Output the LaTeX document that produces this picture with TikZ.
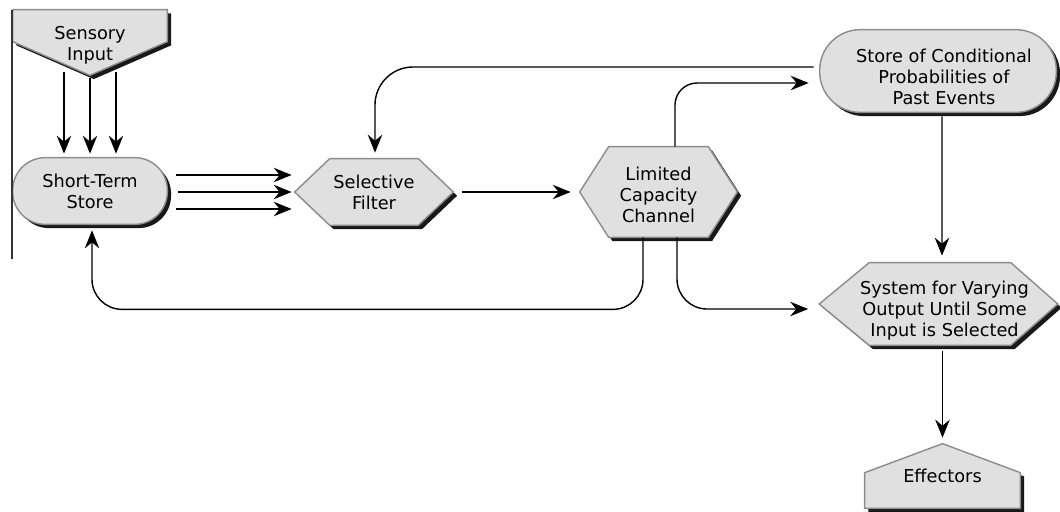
\documentclass[tikz,border=0pt]{standalone}
\usepackage{fontspec}
\setmainfont{DejaVu Sans}
\usetikzlibrary{calc,arrows.meta,shadows}
\pgfdeclarelayer{background}
\pgfsetlayers{background,main}
\tikzset{
  box/.style={inner sep=0pt, align=center, font=\fontsize{10.1}{12}\selectfont},
  txt/.style={inner sep=0pt, align=center, font=\fontsize{10.1}{12}\selectfont},
  shp/.style={fill=black!12, draw=black!45, line width=0.8pt,
    drop shadow={shadow xshift=0.075cm, shadow yshift=-0.075cm, opacity=0.9, fill=black}},
  arr/.style={line width=0.8pt, -{Stealth[length=0.36cm, width=0.29cm, inset=0.12cm]}}
}
\begin{document}
\begin{tikzpicture}[x=0.02cm, y=-0.02cm]
\useasboundingbox (0,0) rectangle (1060,511);

% nodes
\node[box, minimum width=3.08cm, minimum height=1.30cm,
  label={[txt, yshift=-0.05cm]center:{Sensory\\Input}}] (si) at (90,42.5) {};
\node[box, minimum width=3.08cm, minimum height=1.32cm] (sts) at (90,191) {Short-Term\\Store};
\node[box, minimum width=3.16cm, minimum height=1.32cm] (sf) at (374,192) {Selective\\Filter};
\node[box, minimum width=3.14cm, minimum height=1.80cm,
  label={[txt, yshift=-0.05cm]center:{Limited\\Capacity\\Channel}}] (lcc) at (658.5,192) {};
\node[box, minimum width=4.72cm, minimum height=1.64cm,
  label={[txt, xshift=0.12cm, yshift=-0.11cm]center:{Store of Conditional\\Probabilities of\\Past Events}}] (scp) at (938,71) {};
\node[box, minimum width=4.76cm, minimum height=1.64cm,
  label={[txt, xshift=0.12cm, yshift=-0.14cm]center:{System for Varying\\Output Until Some\\Input is Selected}}] (sys) at (938.5,304) {};
\node[box, minimum width=3.10cm, minimum height=1.28cm] (eff) at (942.5,476) {\raisebox{-3pt}{Effectors}};

% shapes
\begin{pgfonlayer}{background}
\path[shp] (si.north west) -- (si.north east) -- ($(si.north east)+(0,32)$) -- (si.south) -- ($(si.north west)+(0,32)$) -- cycle;
\path[shp, rounded corners=0.65cm] (sts.north west) rectangle (sts.south east);
\path[shp] (sf.west) -- ($(sf.north west)+(35,0)$) -- ($(sf.north east)+(-35,0)$) -- (sf.east) -- ($(sf.south east)+(-35,0)$) -- ($(sf.south west)+(35,0)$) -- cycle;
\path[shp] (lcc.west) -- ($(lcc.north west)+(29,0)$) -- ($(lcc.north east)+(-29,0)$) -- (lcc.east) -- ($(lcc.south east)+(-29,0)$) -- ($(lcc.south west)+(29,0)$) -- cycle;
\path[shp, rounded corners=0.81cm] (scp.north west) rectangle (scp.south east);
\path[shp] (sys.west) -- ($(sys.north west)+(50,0)$) -- ($(sys.north east)+(-47,0)$) -- (sys.east) -- ($(sys.south east)+(-47,0)$) -- ($(sys.south west)+(50,0)$) -- cycle;
\path[shp] (eff.north) -- ($(eff.north east)+(0,29)$) -- (eff.south east) -- (eff.south west) -- ($(eff.north west)+(0,29)$) -- cycle;
\end{pgfonlayer}

% left border line
\draw[line width=0.6pt, black!80] (12,10) -- (12,259);

% connectors
\draw[arr] ($(si.south)+(-26,-3)$) -- ($(sts.north)+(-26,-4)$);
\draw[arr] ($(si.south)+(0,3)$) -- ($(sts.north)+(0,-4)$);
\draw[arr] ($(si.south)+(26,-3)$) -- ($(sts.north)+(26,-4)$);

\draw[arr] ($(sts.east)+(9,-16)$) -- ($(sf.west)+(-3,-17)$);
\draw[arr] ($(sts.east)+(11,1)$) -- ($(sf.west)+(-3,0)$);
\draw[arr] ($(sts.east)+(9,18)$) -- ($(sf.west)+(-3,17)$);

\draw[arr] ($(sf.east)+(9,0)$) -- ($(lcc.west)+(-9,0)$);

\draw[arr, rounded corners=0.76cm] ($(scp.west)+(-6,-4)$) -| ($(sf.north)+(1,-6)$);
\draw[arr, rounded corners=0.44cm] ($(lcc.north)+(16.5,0)$) |- ($(scp.west)+(-11,12)$);

\draw[arr] ($(scp.south)+(4,4)$) -- ($(sys.north)+(3.5,-7)$);
\draw[arr] ($(sys.south)+(4,6)$) -- ($(eff.north)+(0,-6)$);

\coordinate (ststip) at ($(sts.south)+(2,6)$);
\draw[arr, rounded corners=0.6cm] ($(lcc.south)+(-15.5,0)$) |- ($(ststip)+(0,79)$) -- (ststip);
\draw[arr, rounded corners=0.6cm] ($(lcc.south)+(18.5,0)$) |- ($(sys.west)+(-11,5)$);
\end{tikzpicture}
\end{document}
